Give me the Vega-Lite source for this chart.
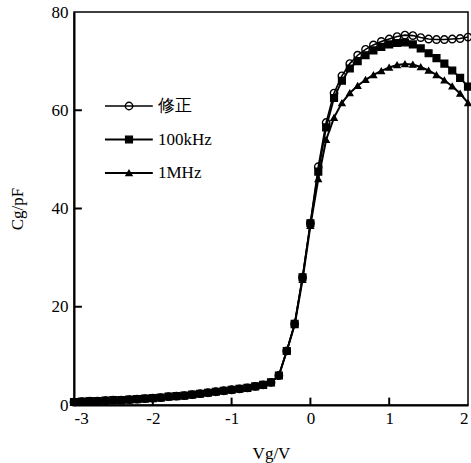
{
  "$schema": "https://vega.github.io/schema/vega-lite/v6.json",
  "width": 394,
  "height": 393,
  "autosize": {"type": "none"},
  "padding": {"left": 74, "top": 12, "right": 3, "bottom": 58},
  "background": "white",
  "config": {
    "view": {"stroke": "black", "strokeWidth": 1.5},
    "axis": {
      "grid": false,
      "ticks": false,
      "domainColor": "black",
      "domainWidth": 2,
      "labelColor": "black",
      "labelFont": "Liberation Serif",
      "labelFontSize": 17,
      "titleFont": "Liberation Serif",
      "titleFontSize": 17,
      "titleFontWeight": "normal",
      "titleColor": "black"
    }
  },
  "data": {
    "values": [
      {"v": -3.0, "c": 0.6, "s": "修正"}, {"v": -2.9, "c": 0.7, "s": "修正"}, {"v": -2.8, "c": 0.8, "s": "修正"}, {"v": -2.7, "c": 0.8, "s": "修正"}, {"v": -2.6, "c": 0.9, "s": "修正"}, {"v": -2.5, "c": 1.0, "s": "修正"}, {"v": -2.4, "c": 1.0, "s": "修正"}, {"v": -2.3, "c": 1.1, "s": "修正"}, {"v": -2.2, "c": 1.2, "s": "修正"}, {"v": -2.1, "c": 1.3, "s": "修正"}, {"v": -2.0, "c": 1.4, "s": "修正"}, {"v": -1.9, "c": 1.5, "s": "修正"}, {"v": -1.8, "c": 1.7, "s": "修正"}, {"v": -1.7, "c": 1.8, "s": "修正"}, {"v": -1.6, "c": 1.9, "s": "修正"}, {"v": -1.5, "c": 2.1, "s": "修正"}, {"v": -1.4, "c": 2.3, "s": "修正"}, {"v": -1.3, "c": 2.5, "s": "修正"}, {"v": -1.2, "c": 2.7, "s": "修正"}, {"v": -1.1, "c": 2.9, "s": "修正"}, {"v": -1.0, "c": 3.1, "s": "修正"}, {"v": -0.9, "c": 3.3, "s": "修正"}, {"v": -0.8, "c": 3.5, "s": "修正"}, {"v": -0.7, "c": 3.8, "s": "修正"}, {"v": -0.6, "c": 4.1, "s": "修正"}, {"v": -0.5, "c": 4.6, "s": "修正"}, {"v": -0.4, "c": 6.0, "s": "修正"}, {"v": -0.3, "c": 11.0, "s": "修正"}, {"v": -0.2, "c": 16.5, "s": "修正"}, {"v": -0.1, "c": 26.0, "s": "修正"}, {"v": 0.0, "c": 37.0, "s": "修正"}, {"v": 0.1, "c": 48.5, "s": "修正"}, {"v": 0.2, "c": 57.5, "s": "修正"}, {"v": 0.3, "c": 63.5, "s": "修正"}, {"v": 0.4, "c": 67.0, "s": "修正"}, {"v": 0.5, "c": 69.5, "s": "修正"}, {"v": 0.6, "c": 71.2, "s": "修正"}, {"v": 0.7, "c": 72.4, "s": "修正"}, {"v": 0.8, "c": 73.3, "s": "修正"}, {"v": 0.9, "c": 74.0, "s": "修正"}, {"v": 1.0, "c": 74.5, "s": "修正"}, {"v": 1.1, "c": 75.0, "s": "修正"}, {"v": 1.2, "c": 75.3, "s": "修正"}, {"v": 1.3, "c": 75.2, "s": "修正"}, {"v": 1.4, "c": 74.8, "s": "修正"}, {"v": 1.5, "c": 74.5, "s": "修正"}, {"v": 1.6, "c": 74.4, "s": "修正"}, {"v": 1.7, "c": 74.4, "s": "修正"}, {"v": 1.8, "c": 74.5, "s": "修正"}, {"v": 1.9, "c": 74.6, "s": "修正"}, {"v": 2.0, "c": 74.9, "s": "修正"},
      {"v": -3.0, "c": 0.6, "s": "100kHz"}, {"v": -2.9, "c": 0.7, "s": "100kHz"}, {"v": -2.8, "c": 0.8, "s": "100kHz"}, {"v": -2.7, "c": 0.8, "s": "100kHz"}, {"v": -2.6, "c": 0.9, "s": "100kHz"}, {"v": -2.5, "c": 1.0, "s": "100kHz"}, {"v": -2.4, "c": 1.0, "s": "100kHz"}, {"v": -2.3, "c": 1.1, "s": "100kHz"}, {"v": -2.2, "c": 1.2, "s": "100kHz"}, {"v": -2.1, "c": 1.3, "s": "100kHz"}, {"v": -2.0, "c": 1.4, "s": "100kHz"}, {"v": -1.9, "c": 1.5, "s": "100kHz"}, {"v": -1.8, "c": 1.7, "s": "100kHz"}, {"v": -1.7, "c": 1.8, "s": "100kHz"}, {"v": -1.6, "c": 1.9, "s": "100kHz"}, {"v": -1.5, "c": 2.1, "s": "100kHz"}, {"v": -1.4, "c": 2.3, "s": "100kHz"}, {"v": -1.3, "c": 2.5, "s": "100kHz"}, {"v": -1.2, "c": 2.7, "s": "100kHz"}, {"v": -1.1, "c": 2.9, "s": "100kHz"}, {"v": -1.0, "c": 3.1, "s": "100kHz"}, {"v": -0.9, "c": 3.3, "s": "100kHz"}, {"v": -0.8, "c": 3.5, "s": "100kHz"}, {"v": -0.7, "c": 3.8, "s": "100kHz"}, {"v": -0.6, "c": 4.1, "s": "100kHz"}, {"v": -0.5, "c": 4.6, "s": "100kHz"}, {"v": -0.4, "c": 6.0, "s": "100kHz"}, {"v": -0.3, "c": 11.0, "s": "100kHz"}, {"v": -0.2, "c": 16.5, "s": "100kHz"}, {"v": -0.1, "c": 26.0, "s": "100kHz"}, {"v": 0.0, "c": 37.0, "s": "100kHz"}, {"v": 0.1, "c": 47.5, "s": "100kHz"}, {"v": 0.2, "c": 56.5, "s": "100kHz"}, {"v": 0.3, "c": 62.5, "s": "100kHz"}, {"v": 0.4, "c": 66.0, "s": "100kHz"}, {"v": 0.5, "c": 68.5, "s": "100kHz"}, {"v": 0.6, "c": 70.0, "s": "100kHz"}, {"v": 0.7, "c": 71.2, "s": "100kHz"}, {"v": 0.8, "c": 72.2, "s": "100kHz"}, {"v": 0.9, "c": 72.9, "s": "100kHz"}, {"v": 1.0, "c": 73.4, "s": "100kHz"}, {"v": 1.1, "c": 73.7, "s": "100kHz"}, {"v": 1.2, "c": 73.8, "s": "100kHz"}, {"v": 1.3, "c": 73.4, "s": "100kHz"}, {"v": 1.4, "c": 72.6, "s": "100kHz"}, {"v": 1.5, "c": 71.6, "s": "100kHz"}, {"v": 1.6, "c": 70.6, "s": "100kHz"}, {"v": 1.7, "c": 69.5, "s": "100kHz"}, {"v": 1.8, "c": 68.1, "s": "100kHz"}, {"v": 1.9, "c": 66.6, "s": "100kHz"}, {"v": 2.0, "c": 64.8, "s": "100kHz"},
      {"v": -3.0, "c": 0.6, "s": "1MHz"}, {"v": -2.9, "c": 0.7, "s": "1MHz"}, {"v": -2.8, "c": 0.8, "s": "1MHz"}, {"v": -2.7, "c": 0.8, "s": "1MHz"}, {"v": -2.6, "c": 0.9, "s": "1MHz"}, {"v": -2.5, "c": 1.0, "s": "1MHz"}, {"v": -2.4, "c": 1.0, "s": "1MHz"}, {"v": -2.3, "c": 1.1, "s": "1MHz"}, {"v": -2.2, "c": 1.2, "s": "1MHz"}, {"v": -2.1, "c": 1.3, "s": "1MHz"}, {"v": -2.0, "c": 1.4, "s": "1MHz"}, {"v": -1.9, "c": 1.5, "s": "1MHz"}, {"v": -1.8, "c": 1.7, "s": "1MHz"}, {"v": -1.7, "c": 1.8, "s": "1MHz"}, {"v": -1.6, "c": 1.9, "s": "1MHz"}, {"v": -1.5, "c": 2.1, "s": "1MHz"}, {"v": -1.4, "c": 2.3, "s": "1MHz"}, {"v": -1.3, "c": 2.5, "s": "1MHz"}, {"v": -1.2, "c": 2.7, "s": "1MHz"}, {"v": -1.1, "c": 2.9, "s": "1MHz"}, {"v": -1.0, "c": 3.1, "s": "1MHz"}, {"v": -0.9, "c": 3.3, "s": "1MHz"}, {"v": -0.8, "c": 3.5, "s": "1MHz"}, {"v": -0.7, "c": 3.8, "s": "1MHz"}, {"v": -0.6, "c": 4.1, "s": "1MHz"}, {"v": -0.5, "c": 4.6, "s": "1MHz"}, {"v": -0.4, "c": 6.0, "s": "1MHz"}, {"v": -0.3, "c": 11.0, "s": "1MHz"}, {"v": -0.2, "c": 16.3, "s": "1MHz"}, {"v": -0.1, "c": 25.5, "s": "1MHz"}, {"v": 0.0, "c": 36.5, "s": "1MHz"}, {"v": 0.1, "c": 46.0, "s": "1MHz"}, {"v": 0.2, "c": 54.0, "s": "1MHz"}, {"v": 0.3, "c": 58.5, "s": "1MHz"}, {"v": 0.4, "c": 61.5, "s": "1MHz"}, {"v": 0.5, "c": 63.5, "s": "1MHz"}, {"v": 0.6, "c": 65.0, "s": "1MHz"}, {"v": 0.7, "c": 66.2, "s": "1MHz"}, {"v": 0.8, "c": 67.2, "s": "1MHz"}, {"v": 0.9, "c": 68.0, "s": "1MHz"}, {"v": 1.0, "c": 68.7, "s": "1MHz"}, {"v": 1.1, "c": 69.2, "s": "1MHz"}, {"v": 1.2, "c": 69.4, "s": "1MHz"}, {"v": 1.3, "c": 69.3, "s": "1MHz"}, {"v": 1.4, "c": 68.8, "s": "1MHz"}, {"v": 1.5, "c": 68.1, "s": "1MHz"}, {"v": 1.6, "c": 67.2, "s": "1MHz"}, {"v": 1.7, "c": 66.1, "s": "1MHz"}, {"v": 1.8, "c": 64.9, "s": "1MHz"}, {"v": 1.9, "c": 63.4, "s": "1MHz"}, {"v": 2.0, "c": 61.5, "s": "1MHz"}
    ]
  },
  "resolve": {"scale": {"y": "independent"}, "axis": {"y": "independent"}},
  "layer": [
    {
      "mark": {"type": "line", "stroke": "black"},
      "encoding": {
        "x": {"field": "v", "type": "quantitative",
          "scale": {"domain": [-3, 2], "nice": false, "zero": false},
          "axis": {"values": [-3, -2, -1, 0, 1, 2], "title": "Vg/V", "labelPadding": 5, "titlePadding": 19,
                   "labelExpr": "datum.value < 0 ? '-' + abs(datum.value) : '' + datum.value"}},
        "y": {"field": "c", "type": "quantitative",
          "scale": {"domain": [0, 80], "nice": false},
          "axis": {"values": [0, 20, 40, 60, 80], "title": "Cg/pF", "labelPadding": 6, "titlePadding": 25}},
        "detail": {"field": "s", "type": "nominal"},
        "strokeWidth": {"field": "s", "type": "nominal", "scale": {"domain": ["修正", "100kHz", "1MHz"], "range": [1.6, 2, 1.2]}, "legend": null}
      }
    },
    {
      "mark": {"type": "point", "stroke": "black", "strokeWidth": 1.4, "opacity": 1},
      "encoding": {
        "x": {"field": "v", "type": "quantitative"},
        "y": {"field": "c", "type": "quantitative", "scale": {"domain": [0, 80], "nice": false}, "axis": null},
        "shape": {"field": "s", "type": "nominal",
          "scale": {"domain": ["修正", "100kHz", "1MHz"], "range": ["circle", "square", "triangle-up"]}, "legend": null},
        "fill": {"field": "s", "type": "nominal",
          "scale": {"domain": ["修正", "100kHz", "1MHz"], "range": ["transparent", "black", "black"]}, "legend": null},
        "size": {"field": "s", "type": "nominal", "scale": {"domain": ["修正", "100kHz", "1MHz"], "range": [55, 36, 28]}, "legend": null}
      }
    },
    {
      "data": {"values": [{"t": -2}, {"t": -1}, {"t": 0}, {"t": 1}]},
      "mark": {"type": "rule", "color": "black", "strokeWidth": 2, "opacity": 1},
      "encoding": {
        "x": {"field": "t", "type": "quantitative"},
        "y": {"datum": 0, "type": "quantitative", "scale": {"domain": [0, 80], "nice": false}, "axis": null},
        "y2": {"datum": 1.5}
      }
    },
    {
      "data": {"values": [{"t": 20}, {"t": 40}, {"t": 60}]},
      "mark": {"type": "rule", "color": "black", "strokeWidth": 2, "opacity": 1},
      "encoding": {
        "x": {"datum": -3, "type": "quantitative"},
        "x2": {"datum": -2.9},
        "y": {"field": "t", "type": "quantitative", "scale": {"domain": [0, 80], "nice": false}, "axis": null}
      }
    },
    {
      "data": {"values": [{"s": "修正"}, {"s": "100kHz"}, {"s": "1MHz"}]},
      "mark": {"type": "rule", "color": "black"},
      "encoding": {
        "x": {"datum": -2.607, "type": "quantitative"},
        "x2": {"datum": -2.0},
        "y": {"field": "s", "type": "nominal", "scale": {"type": "point", "domain": ["修正", "100kHz", "1MHz"], "range": [94, 161], "padding": 0}, "axis": null},
        "strokeWidth": {"field": "s", "type": "nominal"}
      }
    },
    {
      "data": {"values": [{"s": "修正"}, {"s": "100kHz"}, {"s": "1MHz"}]},
      "mark": {"type": "point", "stroke": "black", "strokeWidth": 1.4, "opacity": 1},
      "encoding": {
        "x": {"datum": -2.302, "type": "quantitative"},
        "y": {"field": "s", "type": "nominal", "scale": {"type": "point", "domain": ["修正", "100kHz", "1MHz"], "range": [94, 161], "padding": 0}, "axis": null},
        "shape": {"field": "s", "type": "nominal"},
        "fill": {"field": "s", "type": "nominal"},
        "size": {"field": "s", "type": "nominal"}
      }
    },
    {
      "data": {"values": [{"s": "修正"}, {"s": "100kHz"}, {"s": "1MHz"}]},
      "mark": {"type": "text", "align": "left", "baseline": "middle", "font": "Liberation Serif", "fontSize": 17, "color": "black"},
      "encoding": {
        "x": {"datum": -1.934, "type": "quantitative"},
        "y": {"field": "s", "type": "nominal", "scale": {"type": "point", "domain": ["修正", "100kHz", "1MHz"], "range": [94, 161], "padding": 0}, "axis": null},
        "text": {"field": "s", "type": "nominal"}
      }
    }
  ]
}
